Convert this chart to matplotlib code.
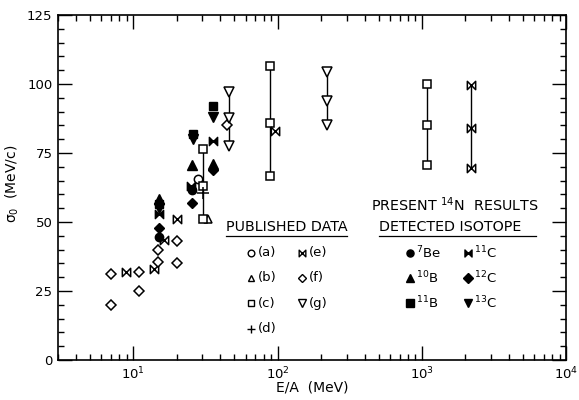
import numpy as np
import matplotlib
matplotlib.use("Agg")
from matplotlib import pyplot as plt
from matplotlib.path import Path
from matplotlib.ticker import LogLocator, MultipleLocator, NullFormatter

# published data (a)-(g): E/A in MeV, sigma_0 in MeV/c
a_x = [28.0]
a_y = [65.5]
b_x = [33.0]
b_y = [51.0]
c_x = [30.5, 30.5, 30.5, 88.0, 88.0, 88.0, 1090.0, 1090.0, 1090.0]
c_y = [51.0, 63.0, 76.5, 66.5, 86.0, 106.5, 70.5, 85.0, 100.0]
d_x = [30.5]
d_y = [60.5]
e_x = [8.9, 13.8, 16.4, 20.0, 96.0, 2200.0, 2200.0, 2200.0]
e_y = [32.0, 33.0, 43.5, 51.0, 83.0, 69.5, 84.0, 99.5]
f_x = [7.0, 7.0, 11.0, 11.0, 14.7, 14.7, 20.0, 20.0, 44.5]
f_y = [20.0, 31.0, 32.0, 25.0, 35.5, 40.0, 43.0, 35.0, 85.0]
g_x = [45.8, 45.8, 45.8, 219.0, 219.0, 219.0]
g_y = [77.5, 87.5, 97.0, 85.0, 94.0, 104.5]

# present 14N results by detected isotope
be7_x = [15.1, 25.5]
be7_y = [44.5, 61.5]
b10_x = [15.1, 25.3, 35.7]
b10_y = [58.5, 70.5, 71.0]
b11_x = [15.1, 25.7, 35.7]
b11_y = [56.5, 82.0, 92.0]
c11_x = [15.1, 25.0, 35.7]
c11_y = [53.0, 63.0, 79.5]
c12_x = [15.1, 25.5, 35.7]
c12_y = [48.0, 57.0, 69.0]
c13_x = [15.1, 25.7, 35.7]
c13_y = [55.0, 80.0, 88.0]

bowtie = Path([(-1, 1), (-1, -1), (1, 1), (1, -1), (-1, 1)],
              [Path.MOVETO, Path.LINETO, Path.LINETO, Path.LINETO, Path.CLOSEPOLY])

plt.rcParams["font.family"] = "DejaVu Sans"
plt.rcParams["mathtext.fontset"] = "dejavusans"

fig = plt.figure(figsize=(5.79, 4.0), dpi=100)
ax = fig.add_axes([0.1002, 0.1, 0.8778, 0.8625])

published = [
    (a_x, a_y, "o", 6),
    (b_x, b_y, "^", 6),
    (c_x, c_y, "s", 6),
    (d_x, d_y, "+", 8),
    (e_x, e_y, bowtie, 6),
    (f_x, f_y, "D", 5.5),
    (g_x, g_y, "v", 6.5),
]

# vertical bars joining the three values measured at one energy
for xs, ys, m, ms in published:
    xs = np.array(xs)
    ys = np.array(ys)
    for xv in np.unique(xs):
        sel = ys[xs == xv]
        if len(sel) >= 3:
            ax.plot([xv, xv], [sel.min(), sel.max()], color="black", lw=1.0, zorder=1)

for xs, ys, m, ms in published:
    ax.plot(xs, ys, linestyle="none", marker=m, markersize=ms,
            markerfacecolor="white", markeredgecolor="black",
            markeredgewidth=1.1, color="black", zorder=3)

present = [
    (be7_x, be7_y, "o", 6),
    (b10_x, b10_y, "^", 6.5),
    (b11_x, b11_y, "s", 6),
    (c11_x, c11_y, bowtie, 6),
    (c12_x, c12_y, "D", 5.5),
    (c13_x, c13_y, "v", 6.5),
]
for xs, ys, m, ms in present:
    ax.plot(xs, ys, linestyle="none", marker=m, markersize=ms,
            markerfacecolor="black", markeredgecolor="black",
            markeredgewidth=1.0, zorder=4)

ax.set_xscale("log")
ax.set_xlim(3, 1e4)
ax.set_ylim(0, 125)
ax.xaxis.set_major_locator(LogLocator(base=10, numticks=10))
ax.xaxis.set_minor_locator(LogLocator(base=10, subs=np.arange(2, 10), numticks=10))
ax.xaxis.set_minor_formatter(NullFormatter())
ax.yaxis.set_major_locator(MultipleLocator(25))
ax.yaxis.set_minor_locator(MultipleLocator(5))
ax.tick_params(which="both", direction="in", top=True, right=True,
               labelsize=9.5, width=1.0)
ax.tick_params(which="major", length=10, pad=4)
ax.tick_params(which="minor", length=4)
for sp in ax.spines.values():
    sp.set_linewidth(1.2)

ax.set_xlabel("E/A  (MeV)", fontsize=10, va="center")
ax.xaxis.set_label_coords(0.50, -0.08)
ax.set_ylabel("σ$_0$  (MeV/c)", fontsize=10)
ax.yaxis.set_label_coords(-0.072, 0.51)

# legend drawn as text
hs = 10.3
ax.text(0.331, 0.385, "PUBLISHED DATA", transform=ax.transAxes, fontsize=hs,
        va="center", ha="left")
ax.plot([0.331, 0.568], [0.360, 0.360], transform=ax.transAxes, color="black",
        lw=0.9, clip_on=False)
ax.text(0.632, 0.385, "DETECTED ISOTOPE", transform=ax.transAxes, fontsize=hs,
        va="center", ha="left")
ax.plot([0.632, 0.940], [0.360, 0.360], transform=ax.transAxes, color="black",
        lw=0.9, clip_on=False)
ax.text(0.616, 0.449, r"PRESENT $^{14}$N  RESULTS", transform=ax.transAxes,
        fontsize=hs, va="center", ha="left")

rows = [0.311, 0.238, 0.164, 0.090]
pub_labels = ["(a)", "(b)", "(c)", "(d)", "(e)", "(f)", "(g)"]
pos = [(0, 0), (0, 1), (0, 2), (0, 3), (1, 0), (1, 1), (1, 2)]
for (xs, ys, m, ms), lab, (col, row) in zip(published, pub_labels, pos):
    mx = [0.380, 0.480][col]
    ax.plot([mx], [rows[row]], transform=ax.transAxes, linestyle="none",
            marker=m, markersize=ms * 0.8, markerfacecolor="white",
            markeredgecolor="black", markeredgewidth=1.0, clip_on=False)
    ax.text(mx + 0.014, rows[row], lab, transform=ax.transAxes, fontsize=9.5,
            va="center", ha="left")

iso_labels = [r"$^{7}$Be", r"$^{10}$B", r"$^{11}$B",
              r"$^{11}$C", r"$^{12}$C", r"$^{13}$C"]
pos = [(0, 0), (0, 1), (0, 2), (1, 0), (1, 1), (1, 2)]
for (xs, ys, m, ms), lab, (col, row) in zip(present, iso_labels, pos):
    mx = [0.692, 0.806][col]
    ax.plot([mx], [rows[row]], transform=ax.transAxes, linestyle="none",
            marker=m, markersize=ms * 0.85, markerfacecolor="black",
            markeredgecolor="black", clip_on=False)
    ax.text(mx + 0.012, rows[row], lab, transform=ax.transAxes, fontsize=9.5,
            va="center", ha="left")

fig.savefig("out.png", dpi=100)
